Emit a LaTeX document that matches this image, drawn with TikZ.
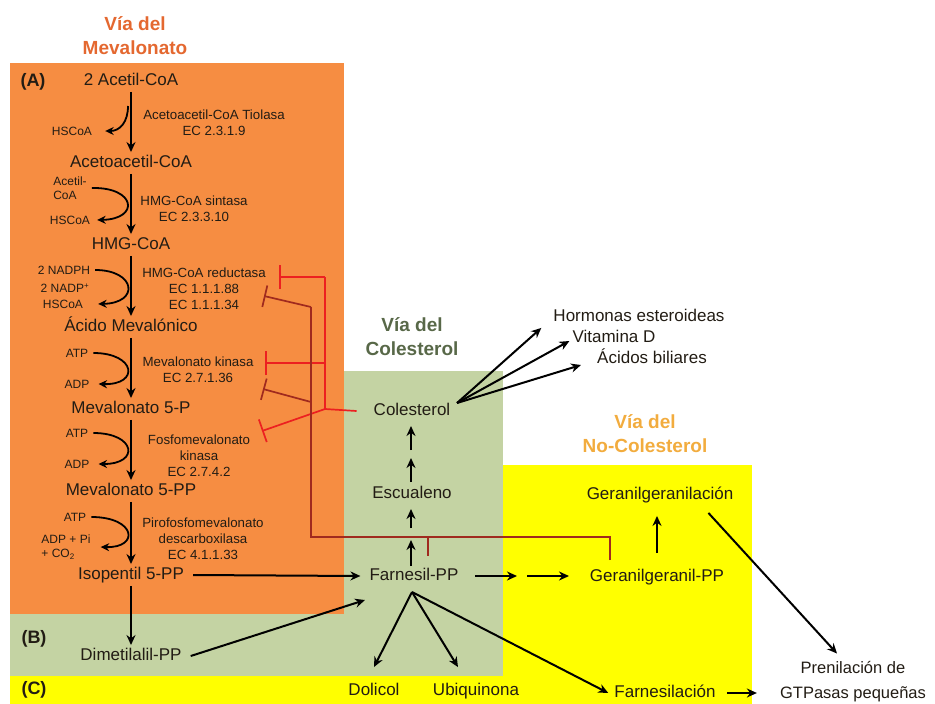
\documentclass[tikz,border=0pt]{standalone}
\usepackage{fontspec}
\setmainfont{Liberation Sans}
\usetikzlibrary{arrows.meta,calc}
\definecolor{orangebg}{RGB}{246,141,66}
\definecolor{greenbg}{RGB}{196,211,163}
\definecolor{yellowbg}{RGB}{255,255,0}
\definecolor{titleor}{RGB}{228,104,48}
\definecolor{titlegr}{RGB}{88,104,72}
\definecolor{titleye}{RGB}{242,172,62}
\definecolor{txt}{RGB}{34,28,20}
\definecolor{inhred}{RGB}{236,32,32}
\definecolor{inhdark}{RGB}{160,42,30}
\begin{document}
\begin{tikzpicture}[x=1pt,y=-1pt,
 main/.style={font=\fontsize{17}{19}\selectfont, text=txt, inner sep=3pt, text height=12.5pt, text depth=3pt},
 multi/.style={font=\fontsize{16.5}{25}\selectfont, text=txt, inner sep=3pt, align=center},
 enz/.style={font=\fontsize{13.3}{16}\selectfont, text=txt, align=center, inner sep=0pt},
 small/.style={font=\fontsize{12}{13.5}\selectfont, text=txt, inner sep=1pt},
 ttl/.style={font=\fontsize{19}{24}\selectfont\bfseries, align=center},
 panel/.style={font=\fontsize{18}{20}\selectfont\bfseries, text=txt},
 arr/.style={-{Stealth[length=10pt,width=9pt]}, line width=2pt, draw=black},
 side/.style={-{Stealth[length=8.5pt,width=8pt]}, line width=1.8pt, draw=black},
 inh/.style={-{Bar[width=24pt]}, line width=1.7pt, draw=inhred},
 inhd/.style={-{Bar[width=22pt]}, line width=1.7pt, draw=inhdark},
 redline/.style={line width=1.7pt, draw=inhred},
 darkline/.style={line width=1.7pt, draw=inhdark}
]
\useasboundingbox (0,0) rectangle (935,704);
% backgrounds
\fill[orangebg] (10,63) rectangle (344,614);
\fill[greenbg] (344,371) rectangle (503,676);
\fill[greenbg] (10,614) rectangle (344,676);
\fill[yellowbg] (503,465) rectangle (752,704);
\fill[yellowbg] (10,676) rectangle (752,704);

% titles
\node[ttl, text=titleor] (tmev) at (135,36) {Vía del\\Mevalonato};
\node[ttl, text=titlegr] (tcol) at (412,337) {Vía del\\Colesterol};
\node[ttl, text=titleye] (tnoc) at (645,434) {Vía del\\No-Colesterol};
\node[panel] (pA) at (33,82) {(A)};
\node[panel] (pB) at (34,639) {(B)};
\node[panel] (pC) at (34,690) {(C)};

% mevalonate main chain
\node[main] (acet) at (131,81) {2 Acetil-CoA};
\node[main] (acac) at (131,163) {Acetoacetil-CoA};
\node[main] (hmg) at (131,245) {HMG-CoA};
\node[main] (mev) at (131,327) {Ácido Mevalónico};
\node[main] (m5p) at (131,409) {Mevalonato 5-P};
\node[main] (m5pp) at (131,491) {Mevalonato 5-PP};
\node[main] (ipp) at (131,575) {Isopentil 5-PP};
\node[main] (dmapp) at (131,656) {Dimetilalil-PP};

% enzymes
\node[enz] (e1) at (214,123) {Acetoacetil-CoA Tiolasa\\EC 2.3.1.9};
\node[enz] (e2) at (194,209) {HMG-CoA sintasa\\EC 2.3.3.10};
\node[enz] (e3) at (204,289) {HMG-CoA reductasa\\EC 1.1.1.88\\EC 1.1.1.34};
\node[enz] (e4) at (198,370) {Mevalonato kinasa\\EC 2.7.1.36};
\node[enz] (e5) at (199,456) {Fosfomevalonato\\kinasa\\EC 2.7.4.2};
\node[enz] (e6) at (203,539) {Pirofosfomevalonato\\descarboxilasa\\EC 4.1.1.33};

% side labels
\node[small] (hs1) at (72,131) {HSCoA};
\node[small, align=left] (ac2) at (70,188) {Acetil-\\CoA};
\node[small] (hs2) at (70,220) {HSCoA};
\node[small] (nadph) at (64,270) {2 NADPH};
\node[small] (nadp) at (65,288) {2 NADP\textsuperscript{+}};
\node[small] (hs3) at (63,304) {HSCoA};
\node[small] (atp4) at (77,353) {ATP};
\node[small] (adp4) at (77,384) {ADP};
\node[small] (atp5) at (77,433) {ATP};
\node[small] (adp5) at (77,464) {ADP};
\node[small] (atp6) at (75,517) {ATP};
\node[small, align=left] (adp6) at (66,547) {ADP + Pi\\+ CO\textsubscript{2}};

% side curves
\coordinate (s1a) at (128,106);
\draw[side] (s1a) .. controls (128,122) and (120,131) .. ([xshift=12pt]hs1.east);
\draw[side] ([xshift=4pt]ac2.east) .. controls (136,187) and (140,219) .. ([xshift=6pt]hs2.east);
\draw[side] ([xshift=4pt]nadph.east) .. controls (136,270) and (140,303) .. ([xshift=14pt]hs3.east);
\draw[side] ([xshift=4pt]atp4.east) .. controls (136,353) and (140,385) .. ([xshift=8pt]adp4.east);
\draw[side] ([xshift=4pt]atp5.east) .. controls (136,433) and (140,464) .. ([xshift=8pt]adp5.east);
\draw[side] ([xshift=4pt]atp6.east) .. controls (136,517) and (140,548) .. ([xshift=9pt]adp6.east);

% main arrows
\draw[arr] (acet) -- (acac);
\draw[arr] (acac) -- (hmg);
\draw[arr] (hmg) -- (mev);
\draw[arr] (mev) -- (m5p);
\draw[arr] (m5p) -- (m5pp);
\draw[arr] (m5pp) -- (ipp);
\draw[arr] (ipp) -- (dmapp);

% cholesterol column
\node[main] (col) at (412,411) {Colesterol};
\node[main] (esc) at (412,494) {Escualeno};
\node[main] (farn) at (414,576) {Farnesil-PP};
\node[main] (horm) at (639,317) {Hormonas esteroideas};
\node[main] (vit) at (614,338) {Vitamina D};
\node[main] (acid) at (652,359) {Ácidos biliares};

% non-cholesterol
\node[main] (gpp) at (657,577) {Geranilgeranil-PP};
\node[main] (ggn) at (660,495) {Geranilgeranilación};
\node[main] (dol) at (374,691) {Dolicol};
\node[main] (ubi) at (476,691) {Ubiquinona};
\node[main] (fnl) at (665,693) {Farnesilación};
\node[multi] (pren) at (853,682) {Prenilación de\\GTPasas pequeñas};

% inhibition lines (red)
\coordinate (rj) at (325,409);
\coordinate (rt) at (325,277);
\coordinate (rm) at (325,363);
\draw[redline] ([xshift=-14pt]col.west) -- (rj) -- (rt);
\draw[inh] (rt) -- (279,277);
\draw[inh] (rm) -- (265,363);
\draw[inh] (rj) -- (262,431);

% inhibition lines (dark red)
\coordinate (gb) at (610,560);
\coordinate (gc) at (610,537);
\coordinate (lc) at (311,537);
\coordinate (lt) at (311,307);
\coordinate (lm) at (311,402);
\draw[darkline] (gb) -- (gc) -- (lc) -- (lt);
\draw[inhd] (lt) -- (264,296);
\draw[inhd] (lm) -- (263,389);
\draw[darkline] (428,537) -- (428,556);

% cholesterol column arrows
\draw[arr] (411,450) -- (411,426);
\draw[arr] (411,482) -- (411,458);
\draw[arr] (411,528) -- (411,509);
\draw[arr] (411,566) -- (411,540);

\coordinate (cb) at (457,403);
\draw[arr] (cb) -- ([xshift=-9pt]horm.south west);
\draw[arr] (cb) -- ([yshift=-3pt]vit.west);
\draw[arr] (cb) -- ([xshift=-13pt,yshift=-6pt]acid.west);

\draw[arr] ([xshift=6pt]ipp.east) -- ([xshift=-6pt]farn.west);
\coordinate (fdm) at (365,600);
\draw[arr] ([xshift=6pt]dmapp.east) -- (fdm);

\coordinate (fb) at (412,592);
\draw[arr] (fb) -- ([yshift=13pt]dol.north);
\draw[arr] (fb) -- ([xshift=-18pt,yshift=13pt]ubi.north);
\draw[arr] (fb) -- ([xshift=-3pt]fnl.west);

\coordinate (fg1) at (475,576);
\coordinate (fg2) at (517,576);
\coordinate (fg3) at (527,576);
\coordinate (fg4) at (569,576);
\draw[arr] (fg1) -- (fg2);
\draw[arr] (fg3) -- (fg4);

\draw[arr] ([yshift=13pt]gpp.north) -- ([yshift=-10pt]gpp.north |- ggn.south);
\draw[arr] ([xshift=-28pt,yshift=-7pt]ggn.south east) -- ([xshift=-16pt,yshift=5pt]pren.north);
\draw[arr] ([xshift=8pt]fnl.east) -- ([xshift=-20pt]fnl.east -| pren.west);
\end{tikzpicture}
\end{document}
